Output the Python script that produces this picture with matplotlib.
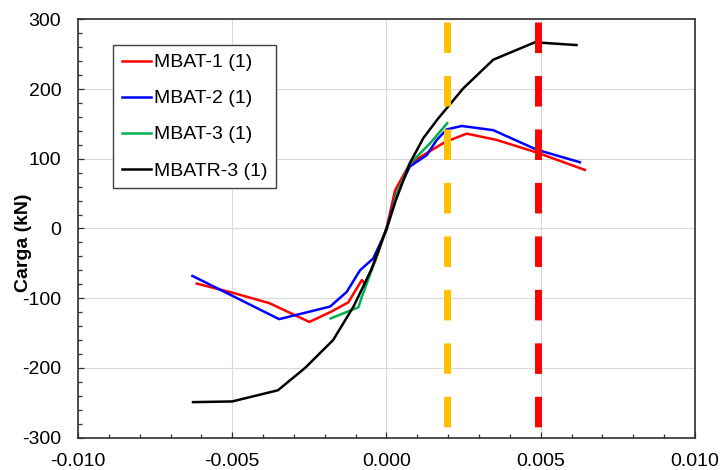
import numpy as np
import matplotlib.pyplot as plt
from matplotlib.ticker import MultipleLocator, FormatStrFormatter

plt.rcParams['font.family'] = ['Liberation Sans', 'DejaVu Sans']
plt.rcParams['axes.unicode_minus'] = False

# Curve data (strain, load in kN)
mbat1_x = [-6.15e-3, -5.0e-3, -3.8e-3, -2.5e-3, -1.78e-3, -1.24e-3, -0.80e-3, -0.70e-3, -0.35e-3, 0.0,
           0.28e-3, 0.76e-3, 1.3e-3, 1.9e-3, 2.6e-3, 3.57e-3, 4.87e-3, 6.43e-3]
mbat1_y = [-79, -92, -107, -134, -119, -106, -74, -79, -45, 0, 55, 93, 108, 124, 136, 127, 109, 84]

mbat2_x = [-6.29e-3, -3.48e-3, -1.83e-3, -1.29e-3, -0.86e-3, -0.43e-3, 0.0, 0.33e-3, 0.76e-3,
           1.3e-3, 1.63e-3, 1.95e-3, 2.44e-3, 3.46e-3, 4.87e-3, 6.27e-3]
mbat2_y = [-68, -130, -112, -91, -60, -43, -2, 50, 89, 105, 127, 142, 147, 141, 113, 95]

mbat3_x = [-1.81e-3, -0.91e-3, -0.80e-3, -0.4e-3, 0.0, 0.17e-3, 0.33e-3, 0.76e-3, 1.41e-3, 1.97e-3]
mbat3_y = [-129, -113, -98, -50, 0, 22, 50, 93, 122, 151]

mbatr3_x = [-6.27e-3, -5.0e-3, -3.52e-3, -2.64e-3, -1.73e-3, -1.07e-3, -0.5e-3, 0.0, 0.3e-3,
            0.76e-3, 1.2e-3, 1.68e-3, 2.49e-3, 3.46e-3, 4.81e-3, 6.16e-3]
mbatr3_y = [-249, -248, -232, -200, -160, -112, -60, 0, 40, 94, 130, 158, 201, 242, 267, 263]

# reference strains (dashed lines)
ref_orange = 0.00197
ref_red = 0.0049

fig = plt.figure(figsize=(7.22, 4.70), dpi=100)
ax = fig.add_axes([0.108, 0.0687, 0.8546, 0.8903])

lw = 1.8
ax.plot(mbat1_x, mbat1_y, color='#FF0000', lw=lw, label='MBAT-1 (1)', zorder=3)
ax.plot(mbat2_x, mbat2_y, color='#0000FF', lw=lw, label='MBAT-2 (1)', zorder=3)
ax.plot(mbat3_x, mbat3_y, color='#00B050', lw=lw, label='MBAT-3 (1)', zorder=3)
ax.plot(mbatr3_x, mbatr3_y, color='black', lw=lw, label='MBATR-3 (1)', zorder=3)

# dashed verticals, drawn top to bottom so dashes start at the top
for xv, c in [(ref_orange, '#FFC000'), (ref_red, '#FF0000')]:
    ax.plot([xv, xv], [296, -300], color=c, lw=5.0, dashes=(4.4, 3.3),
            solid_capstyle='butt', dash_capstyle='butt', zorder=4)

ax.set_xlim(-0.010, 0.010)
ax.set_ylim(-300, 300)
ax.xaxis.set_major_locator(MultipleLocator(0.005))
ax.xaxis.set_minor_locator(MultipleLocator(0.001))
ax.yaxis.set_major_locator(MultipleLocator(100))
ax.yaxis.set_minor_locator(MultipleLocator(20))
ax.xaxis.set_major_formatter(FormatStrFormatter('%.3f'))

ax.grid(True, which='major', color='#D9D9D9', lw=0.8, zorder=0)
ax.set_axisbelow(True)

ax.tick_params(axis='both', which='both', direction='in', labelsize=14,
               color='#303030', width=0.9)
ax.tick_params(axis='both', which='major', length=4)
ax.tick_params(axis='both', which='minor', length=3)
ax.tick_params(axis='y', pad=12)
ax.tick_params(axis='x', pad=11)

for s in ax.spines.values():
    s.set_color('#303030')
    s.set_linewidth(1.2)

ax.set_ylabel('Carga (kN)', fontsize=14, fontweight='bold')
ax.yaxis.set_label_coords(-0.075, 0.465)

leg = ax.legend(loc='upper left', bbox_to_anchor=(0.057, 0.9386), borderaxespad=0,
                fontsize=14, frameon=True, fancybox=False, edgecolor='#404040',
                framealpha=1, handlelength=1.5, handletextpad=0.15,
                labelspacing=0.95, borderpad=0.45)
leg.get_frame().set_linewidth(1.0)
leg.set_zorder(5)

fig.savefig('out.png', dpi=100)
